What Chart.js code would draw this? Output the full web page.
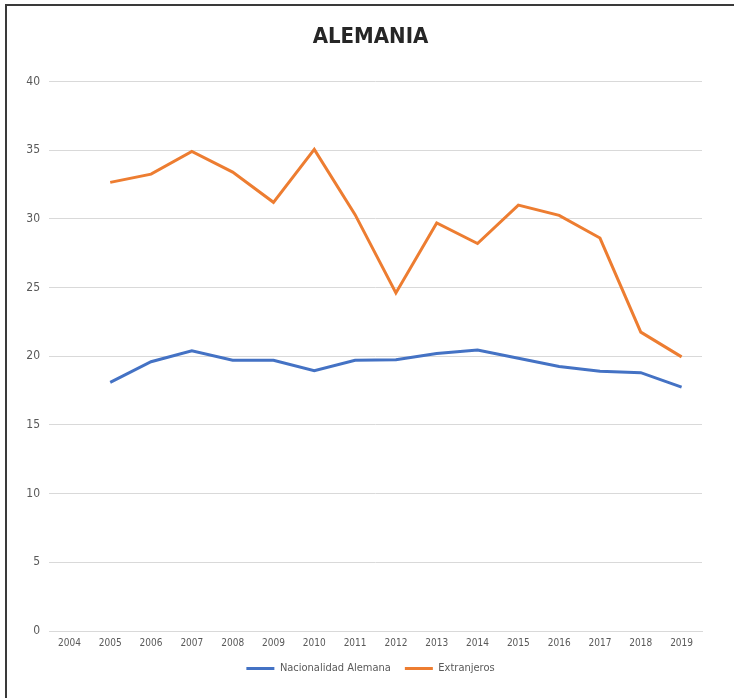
<!DOCTYPE html>
<html>
<head>
<meta charset="utf-8">
<script src="https://cdn.jsdelivr.net/npm/chart.js@4.4.1/dist/chart.umd.min.js"></script>
<style>
    body { margin: 0; background: #fff; }
    #frame {
        position: absolute;
        left: 5px;
        top: 4px;
        width: 727px;
        height: 692px;
        border-top: 2px solid #3a3a3a;
        border-left: 2px solid #3a3a3a;
    }
</style>
</head>
<body>
<div id="frame"><canvas id="alemania"></canvas></div>
<script>
// datos
var years = ["2004", "2005", "2006", "2007", "2008", "2009", "2010", "2011",
    "2012", "2013", "2014", "2015", "2016", "2017", "2018", "2019"];
var nacionalidad = [null, 18.1, 19.6, 20.4, 19.7, 19.7, 18.95, 19.7,
    19.75, 20.2, 20.45, 19.85, 19.25, 18.9, 18.8, 17.75];
var extranjeros = [null, 32.65, 33.25, 34.9, 33.4, 31.2, 35.05, 30.3,
    24.6, 29.7, 28.2, 31.0, 30.25, 28.6, 21.75, 19.95];
var yTicks = [0, 5, 10, 15, 20, 25, 30, 35, 40];

var narrow = "'Liberation Sans Narrow', 'DejaVu Sans Condensed', sans-serif";

var chartdata = {
    labels: years,
    datasets: [{
        label: "Nacionalidad Alemana",
        data: nacionalidad,
        borderColor: "#4472C4",
        backgroundColor: "#4472C4",
        borderWidth: 3,
        pointRadius: 0,
        tension: 0,
    }, {
        label: "Extranjeros",
        data: extranjeros,
        borderColor: "#ED7D31",
        backgroundColor: "#ED7D31",
        borderWidth: 3,
        pointRadius: 0,
        tension: 0,
    }],
};

var canvas = document.getElementById("alemania");

var alemania = new Chart(canvas, {
    type: "line",
    data: chartdata,
    options: {
        responsive: true,
        maintainAspectRatio: false,
        animation: false,
        layout: { padding: { left: 0, right: 0, top: 0, bottom: 14 } },
        plugins: {
            title: {
                display: true,
                text: "ALEMANIA",
                color: "#262626",
                font: { family: narrow, size: 22, weight: "bold" },
                padding: { top: 18, bottom: 31 },
            },
            legend: {
                position: "bottom",
                labels: {
                    color: "#595959",
                    font: { family: narrow, size: 11 },
                    boxWidth: 28,
                    boxHeight: 3,
                    padding: 14,
                    generateLabels: function(chart) {
                        var items = Chart.defaults.plugins.legend.labels.generateLabels(chart);
                        items.forEach(function(it) { it.lineWidth = 0; });
                        return items;
                    },
                },
            },
            tooltip: { enabled: false },
        },
        scales: {
            x: {
                offset: true,
                afterFit: function(scale) { scale.height = 18; },
                grid: { display: false, drawTicks: false },
                border: { display: true, color: "#d9d9d9", width: 1 },
                ticks: {
                    color: "#595959",
                    font: { family: narrow, size: 10 },
                    padding: 6,
                    maxRotation: 0,
                    autoSkip: false,
                },
            },
            y: {
                min: 0,
                max: 40,
                afterBuildTicks: function(scale) {
                    scale.ticks = yTicks.map(function(v) { return { value: v }; });
                },
                afterFit: function(scale) { scale.width = 42; },
                grid: { color: "#d9d9d9", drawTicks: false },
                border: { display: false },
                ticks: {
                    color: "#595959",
                    font: { family: narrow, size: 12 },
                    padding: 9,
                },
            },
            // empty axis that only keeps the right margin
            yRight: {
                position: "right",
                min: 0,
                max: 40,
                afterFit: function(scale) { scale.width = 32; },
                grid: { display: false, drawTicks: false },
                border: { display: false },
                ticks: { display: false },
            },
        },
    },
});
</script>
</body>
</html>
